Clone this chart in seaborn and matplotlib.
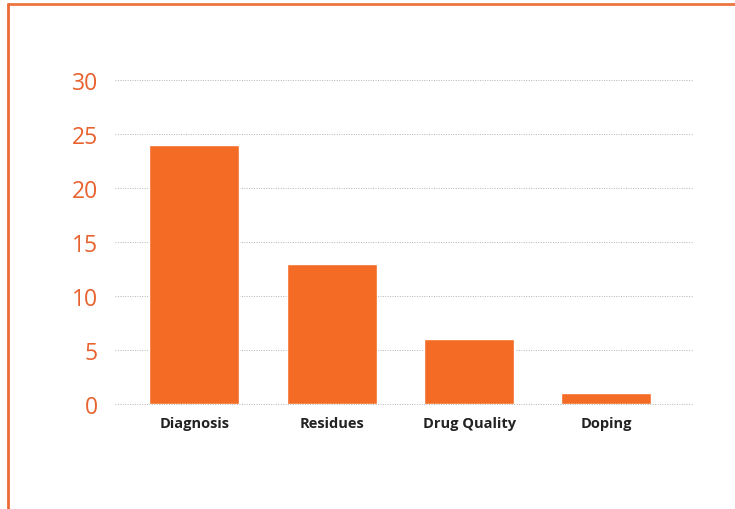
import matplotlib
matplotlib.use('Agg')
import matplotlib.pyplot as plt
import seaborn as sns
from matplotlib.lines import Line2D

categories = ['Diagnosis', 'Residues', 'Drug Quality', 'Doping']
values = [24, 13, 6, 1]
yticks = [0, 5, 10, 15, 20, 25, 30]

bar_color = '#F36B25'
tick_color = '#E8622E'

sns.set_style('white')
plt.rcParams['font.family'] = ['Open Sans', 'DejaVu Sans']

fig = plt.figure(figsize=(7.35, 5.1), dpi=100)
ax = fig.add_axes([0.156, 0.206, 0.785, 0.635])

sns.barplot(x=categories, y=values, color=bar_color, width=0.655,
            saturation=1, ax=ax, zorder=3)

ax.set_ylim(0, 30)
ax.set_xlim(-0.58, 3.62)
ax.set_yticks(yticks)
ax.set_yticklabels([str(t) for t in yticks], color=tick_color, fontsize=16.5)
ax.tick_params(axis='y', length=0, pad=12)
ax.tick_params(axis='x', length=0, pad=9)
for lbl in ax.get_xticklabels():
    lbl.set_fontweight('bold')
    lbl.set_fontsize(10.5)
    lbl.set_color('#222222')

for t in yticks:
    ax.axhline(t, color='#b4b4b4', linestyle=(0, (1, 1.5)), linewidth=0.7,
               zorder=1, clip_on=False)

for s in ax.spines.values():
    s.set_visible(False)
ax.set_xlabel('')
ax.set_ylabel('')

# orange frame on top and left
fig.add_artist(Line2D([8 / 735, 1], [1 - 5 / 510, 1 - 5 / 510],
                      transform=fig.transFigure, color='#EE7440', linewidth=2))
fig.add_artist(Line2D([8 / 735, 8 / 735], [0, 1 - 5 / 510],
                      transform=fig.transFigure, color='#EE6A35', linewidth=2))

fig.savefig('out.png', dpi=100)
